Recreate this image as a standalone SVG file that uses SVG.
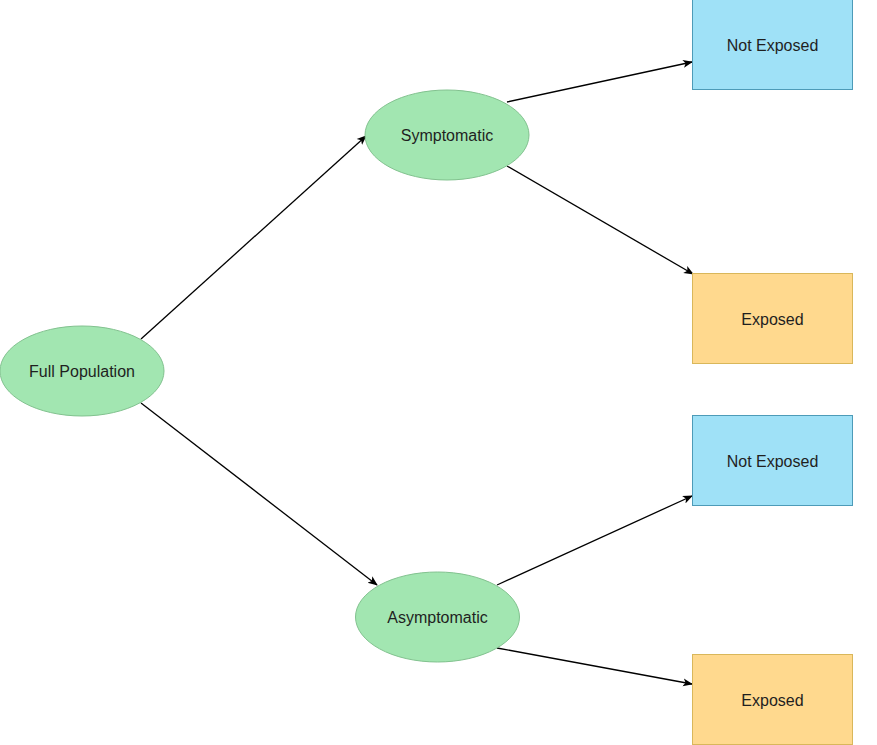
<svg xmlns="http://www.w3.org/2000/svg" width="877" height="745" viewBox="0 0 877 745">
<style>
.ell{fill:#a2e6b1;stroke:#82c28f;stroke-width:1}
.blue{fill:#9fe1f7;stroke:#4d9bb8;stroke-width:1}
.yel{fill:#ffd98e;stroke:#d9b75a;stroke-width:1}
.lbl{font-family:"Liberation Sans",Arial,sans-serif;font-size:16px;fill:#1f1f1f;text-anchor:middle;dominant-baseline:central}
.edge{stroke:#000;stroke-width:1.3;fill:none;marker-end:url(#arr)}
</style>
<defs>
<marker id="arr" viewBox="0 0 10 10" refX="9" refY="5" markerWidth="10" markerHeight="10" markerUnits="userSpaceOnUse" orient="auto">
<path d="M0,1 L10,5 L0,9 L2.5,5 Z" fill="#000"/>
</marker>
</defs>
<rect width="877" height="745" fill="#fff"/>
<g id="connectors">
<line class="edge" x1="141" y1="339" x2="366" y2="136"/>
<line class="edge" x1="141" y1="403" x2="377" y2="585"/>
<line class="edge" x1="507" y1="102" x2="692" y2="62"/>
<line class="edge" x1="507" y1="166" x2="693" y2="274"/>
<line class="edge" x1="497" y1="585" x2="692" y2="496"/>
<line class="edge" x1="497" y1="648" x2="692" y2="684"/>
</g>
<g id="full-population">
<ellipse class="ell" cx="82" cy="371" rx="82" ry="45"/>
<text class="lbl" x="82" y="371">Full Population</text>
</g>
<g id="symptomatic">
<ellipse class="ell" cx="447" cy="135" rx="82" ry="45"/>
<text class="lbl" x="447" y="135">Symptomatic</text>
</g>
<g id="asymptomatic">
<ellipse class="ell" cx="437.5" cy="617" rx="82" ry="45"/>
<text class="lbl" x="437.5" y="617">Asymptomatic</text>
</g>
<g id="not-exposed-1">
<rect class="blue" x="692.5" y="-0.5" width="160" height="90"/>
<text class="lbl" x="772.5" y="45">Not Exposed</text>
</g>
<g id="exposed-1">
<rect class="yel" x="692.5" y="273.5" width="160" height="90"/>
<text class="lbl" x="772.5" y="319">Exposed</text>
</g>
<g id="not-exposed-2">
<rect class="blue" x="692.5" y="415.5" width="160" height="90"/>
<text class="lbl" x="772.5" y="461">Not Exposed</text>
</g>
<g id="exposed-2">
<rect class="yel" x="692.5" y="654.5" width="160" height="90"/>
<text class="lbl" x="772.5" y="700">Exposed</text>
</g>
</svg>
